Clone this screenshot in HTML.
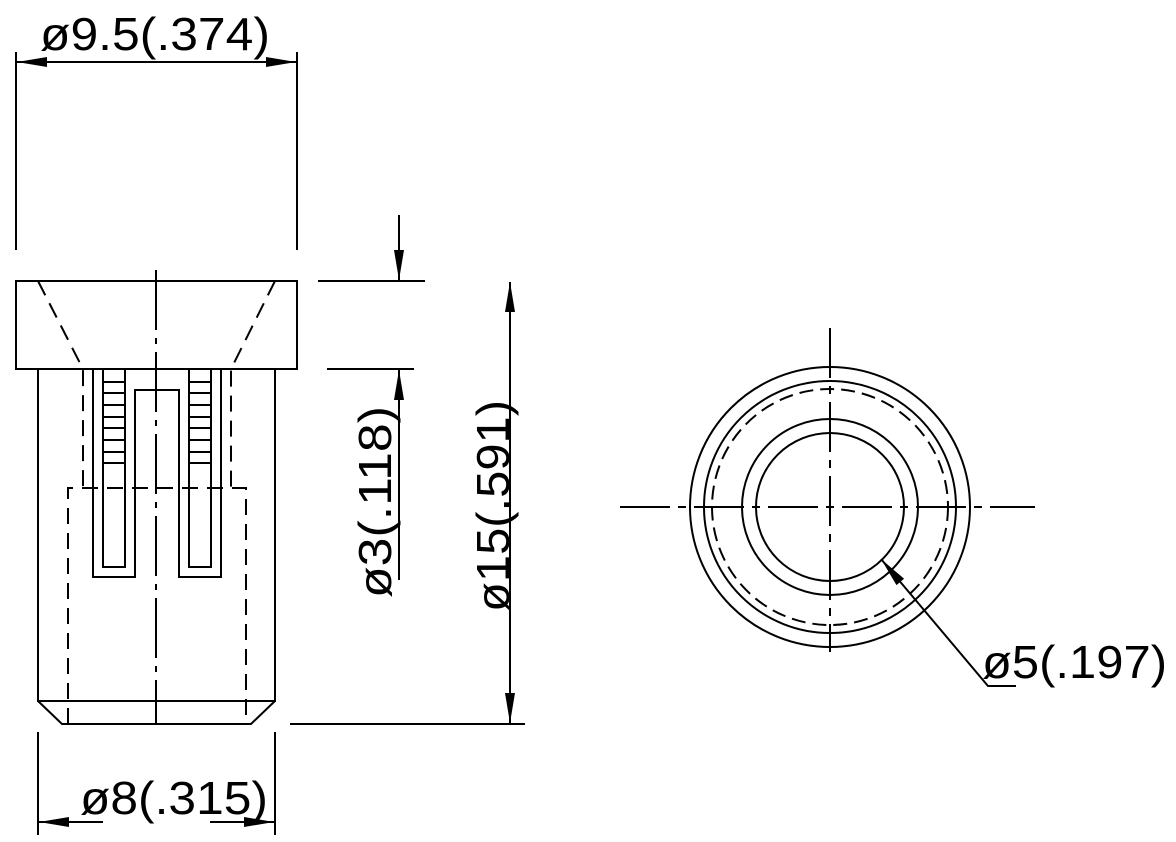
<!DOCTYPE html>
<html><head><meta charset="utf-8"><style>html,body{margin:0;padding:0;background:#fff}svg{display:block}</style></head><body>
<svg width="1176" height="842" viewBox="0 0 1176 842" xmlns="http://www.w3.org/2000/svg">
<defs>
<marker id="a" viewBox="0 0 30 10" refX="30" refY="5" markerWidth="30" markerHeight="10" markerUnits="userSpaceOnUse" orient="auto"><path d="M0,0 L30,5 L0,10 z" fill="#000"/></marker>
</defs>
<g stroke="#000" stroke-width="2" fill="none">
<rect x="16" y="281" width="281" height="88"/>
<path d="M38,369 V701 H275 V369"/>
<path d="M38,701 L62,724 H251 L275,701"/>
<g stroke-dasharray="16,9">
<path d="M38,281 L83,369 V488"/>
<path d="M275,281 L231,369 V488"/>
<path d="M68,724 V488 H246 V724"/>
</g>
<path d="M93,369 V577 H135 V390 H179 V577 H221 V369"/>
<path d="M103,369 V567 H125 V369"/>
<path d="M189,369 V567 H211 V369"/>
<path d="M103,382 H125 M103,393 H125 M103,405 H125 M103,417 H125 M103,428 H125 M103,440 H125 M103,452 H125 M103,463 H125"/>
<path d="M189,382 H211 M189,393 H211 M189,405 H211 M189,417 H211 M189,428 H211 M189,440 H211 M189,452 H211 M189,463 H211"/>
<path d="M156,270 V724" stroke-dasharray="60,8,6,8"/>
<path d="M16,52 V250 M297,52 V250"/>
<path d="M156,62 H17" marker-end="url(#a)"/>
<path d="M156,62 H296" marker-end="url(#a)"/>
<path d="M318,281 H425 M327,369 H414 M290,724 H525"/>
<path d="M399,215 V280" marker-end="url(#a)"/>
<path d="M399,580 V370" marker-end="url(#a)"/>
<path d="M510,500 V282" marker-end="url(#a)"/>
<path d="M510,500 V723" marker-end="url(#a)"/>
<path d="M38,732 V835 M275,732 V835"/>
<path d="M103,822 H39" marker-end="url(#a)"/>
<path d="M210,822 H274" marker-end="url(#a)"/>
<circle cx="830" cy="507" r="140"/>
<circle cx="830" cy="507" r="126"/>
<circle cx="830" cy="507" r="118" stroke-dasharray="14,7"/>
<circle cx="830" cy="507" r="88"/>
<circle cx="830" cy="507" r="74"/>
<path d="M620,507 H1035" stroke-dasharray="50,8,8,8"/>
<path d="M830,328 V652" stroke-dasharray="50,8,8,8"/>
<path d="M1016,686 H988 L881,559" marker-end="url(#a)"/>
</g>
<g font-family="Liberation Sans, DejaVu Sans, sans-serif" font-size="46" fill="#000">
<text x="40" y="50" textLength="230" lengthAdjust="spacingAndGlyphs">ø9.5(.374)</text>
<text x="80" y="814" textLength="188" lengthAdjust="spacingAndGlyphs">ø8(.315)</text>
<text x="982" y="678" textLength="185" lengthAdjust="spacingAndGlyphs">ø5(.197)</text>
<text transform="translate(391,598) rotate(-90)" textLength="192" lengthAdjust="spacingAndGlyphs">ø3(.118)</text>
<text transform="translate(509,612) rotate(-90)" textLength="212" lengthAdjust="spacingAndGlyphs">ø15(.591)</text>
</g>
</svg>
</body></html>
